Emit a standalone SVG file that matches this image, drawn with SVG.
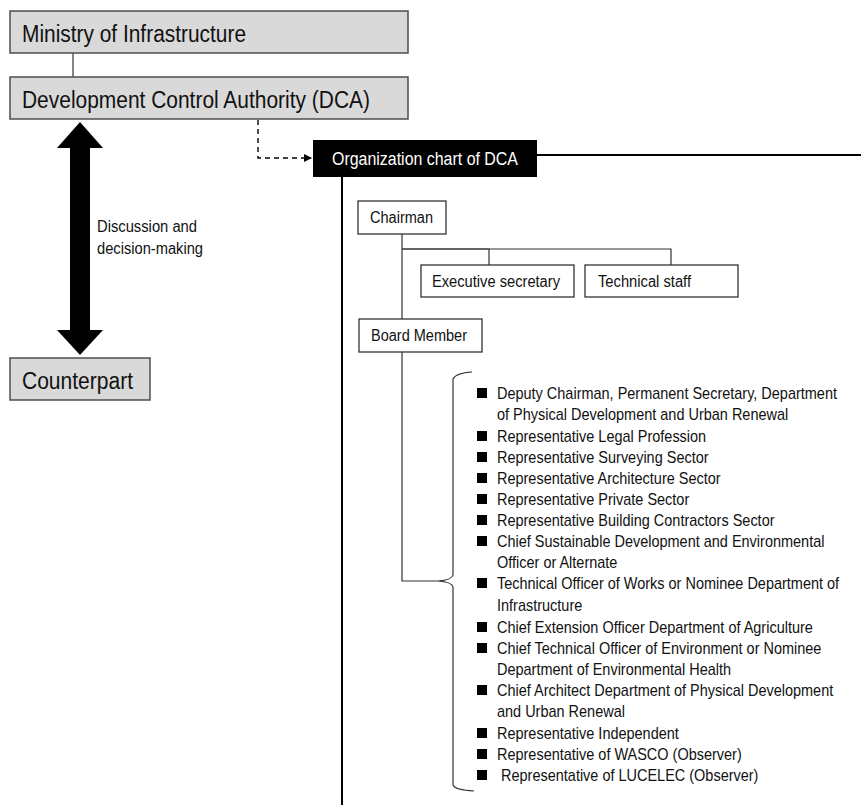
<svg xmlns="http://www.w3.org/2000/svg" width="861" height="805" viewBox="0 0 861 805">
<style>
.gbox{fill:#d9d9d9;stroke:#4d4d4d;stroke-width:1.5}
.wbox{fill:#fff;stroke:#333;stroke-width:1.3}
.big{font-family:"Liberation Sans",Arial,sans-serif;font-size:23px;fill:#111}
.mid{font-family:"Liberation Sans",Arial,sans-serif;font-size:16px;fill:#111}
.lst{font-family:"Liberation Sans",Arial,sans-serif;font-size:16px;fill:#111}
.ln{stroke:#333;stroke-width:1.2;fill:none}
.thick{stroke:#000;stroke-width:2;fill:none}
</style>
<defs>
<marker id="ah" markerWidth="8" markerHeight="8" refX="7" refY="4" orient="auto" markerUnits="userSpaceOnUse">
<path d="M0,0 L8,4 L0,8 Z" fill="#000"/>
</marker>
</defs>
<rect width="861" height="805" fill="#fff"/>
<g id="connectors">
<line class="ln" x1="73" y1="53" x2="73" y2="77"/>
<path d="M258,120 V158 H311" fill="none" stroke="#000" stroke-width="1.4" stroke-dasharray="5,4" marker-end="url(#ah)"/>
<polygon points="80,122 103,148 90,148 90,330 103,330 80,355 57,330 70,330 70,148 57,148" fill="#000"/>
<line class="thick" x1="537" y1="155" x2="861" y2="155"/>
<line class="thick" x1="342" y1="177" x2="342" y2="805"/>
<line class="ln" x1="402" y1="234" x2="402" y2="319"/>
<polyline class="ln" points="489,265 489,249 402,249"/>
<polyline class="ln" points="402,249 671,249 671,265"/>
<polyline class="ln" points="402,352 402,581 438,581"/>
<path class="ln" d="M472,372 Q456,373 453,379 V575 Q452,580 438,581 Q452,582 453,587 V785 Q455,790 474,791"/>
</g>
<g id="ministry">
<rect class="gbox" x="10" y="11" width="398" height="42"/>
<text class="big" x="22" y="42" textLength="224" lengthAdjust="spacingAndGlyphs">Ministry of Infrastructure</text>
</g>
<g id="dca">
<rect class="gbox" x="10" y="77" width="398" height="42"/>
<text class="big" x="22" y="108" textLength="348" lengthAdjust="spacingAndGlyphs">Development Control Authority (DCA)</text>
</g>
<g id="counterpart">
<rect class="gbox" x="10" y="358" width="140" height="42"/>
<text class="big" x="22" y="389" textLength="111" lengthAdjust="spacingAndGlyphs">Counterpart</text>
</g>
<g id="discussion-label">
<text class="mid" x="97" y="232" textLength="100" lengthAdjust="spacingAndGlyphs">Discussion and</text>
<text class="mid" x="97" y="254" textLength="106" lengthAdjust="spacingAndGlyphs">decision-making</text>
</g>
<g id="org-chart">
<rect x="313" y="140" width="224" height="37" fill="#000"/>
<text x="332" y="165" font-family="'Liberation Sans',Arial,sans-serif" font-size="18" fill="#fff" textLength="186" lengthAdjust="spacingAndGlyphs">Organization chart of DCA</text>
</g>
<g id="chairman">
<rect class="wbox" x="358" y="201" width="88" height="33"/>
<text class="mid" x="370" y="223" textLength="63" lengthAdjust="spacingAndGlyphs">Chairman</text>
</g>
<g id="exec-secretary">
<rect class="wbox" x="421" y="265" width="153" height="32"/>
<text class="mid" x="432" y="287" textLength="128" lengthAdjust="spacingAndGlyphs">Executive secretary</text>
</g>
<g id="technical-staff">
<rect class="wbox" x="585" y="265" width="153" height="32"/>
<text class="mid" x="598" y="287" textLength="93" lengthAdjust="spacingAndGlyphs">Technical staff</text>
</g>
<g id="board-member">
<rect class="wbox" x="359" y="319" width="123" height="33"/>
<text class="mid" x="371" y="341" textLength="96" lengthAdjust="spacingAndGlyphs">Board Member</text>
</g>
<g id="member-list">
<g fill="#000">
<rect x="477" y="388" width="10" height="10"/>
<rect x="477" y="431" width="10" height="10"/>
<rect x="477" y="452" width="10" height="10"/>
<rect x="477" y="473" width="10" height="10"/>
<rect x="477" y="494" width="10" height="10"/>
<rect x="477" y="515" width="10" height="10"/>
<rect x="477" y="536" width="10" height="10"/>
<rect x="477" y="578" width="10" height="10"/>
<rect x="477" y="622" width="10" height="10"/>
<rect x="477" y="643" width="10" height="10"/>
<rect x="477" y="685" width="10" height="10"/>
<rect x="477" y="728" width="10" height="10"/>
<rect x="477" y="749" width="10" height="10"/>
<rect x="477" y="770" width="10" height="10"/>
</g>
<g transform="translate(497,0) scale(0.905,1)">
<text class="lst" x="0" y="399">Deputy Chairman, Permanent Secretary, Department</text>
<text class="lst" x="0" y="420">of Physical Development and Urban Renewal</text>
<text class="lst" x="0" y="442">Representative Legal Profession</text>
<text class="lst" x="0" y="463">Representative Surveying Sector</text>
<text class="lst" x="0" y="484">Representative Architecture Sector</text>
<text class="lst" x="0" y="505">Representative Private Sector</text>
<text class="lst" x="0" y="526">Representative Building Contractors Sector</text>
<text class="lst" x="0" y="547">Chief Sustainable Development and Environmental</text>
<text class="lst" x="0" y="568">Officer or Alternate</text>
<text class="lst" x="0" y="589">Technical Officer of Works or Nominee Department of</text>
<text class="lst" x="0" y="611">Infrastructure</text>
<text class="lst" x="0" y="633">Chief Extension Officer Department of Agriculture</text>
<text class="lst" x="0" y="654">Chief Technical Officer of Environment or Nominee</text>
<text class="lst" x="0" y="675">Department of Environmental Health</text>
<text class="lst" x="0" y="696">Chief Architect Department of Physical Development</text>
<text class="lst" x="0" y="717">and Urban Renewal</text>
<text class="lst" x="0" y="739">Representative Independent</text>
<text class="lst" x="0" y="760">Representative of WASCO (Observer)</text>
<text class="lst" x="4.5" y="781">Representative of LUCELEC (Observer)</text>
</g>
</g>
</svg>
